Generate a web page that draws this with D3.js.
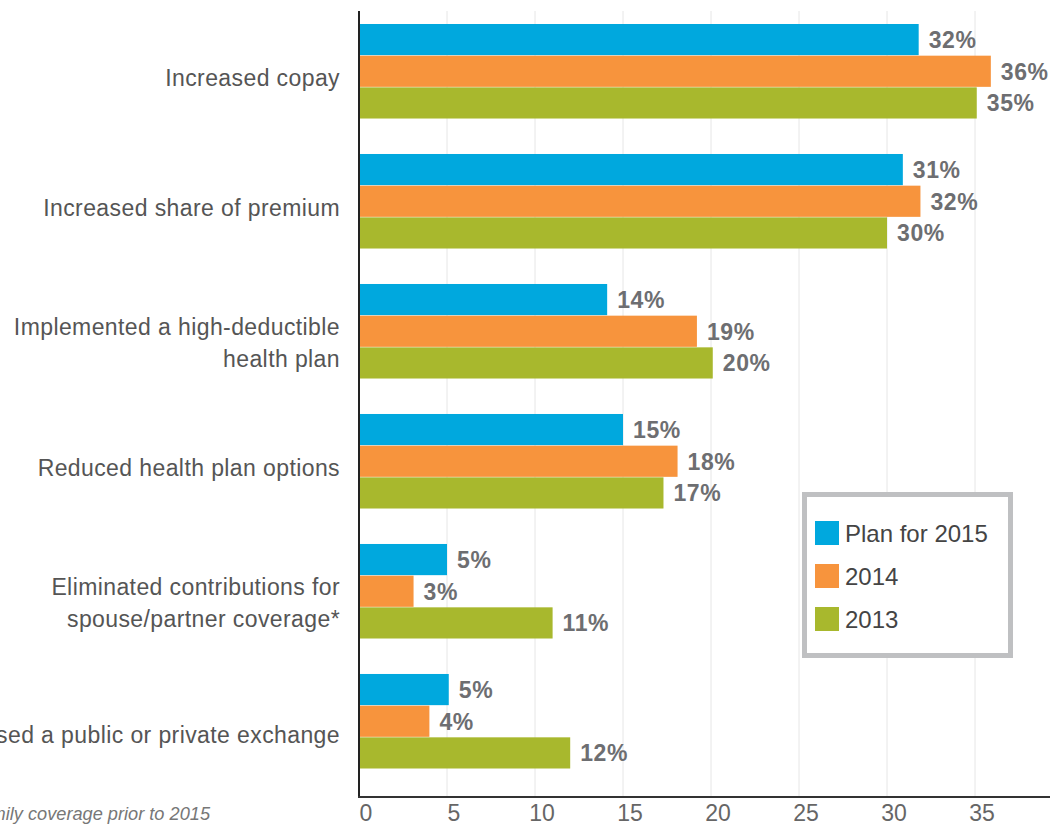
<!DOCTYPE html>
<html>
<head>
<meta charset="utf-8">
<script src="https://cdn.jsdelivr.net/npm/d3@7"></script>
<style>
  html, body { margin: 0; padding: 0; background: #fff; overflow: hidden; }
  svg { display: block; font-family: "Liberation Sans", Arial, sans-serif; }
</style>
</head>
<body>
<svg id="chart" width="1050" height="824"></svg>
<script>
const categories = [
  ["Increased copay"],
  ["Increased share of premium"],
  ["Implemented a high-deductible", "health plan"],
  ["Reduced health plan options"],
  ["Eliminated contributions for", "spouse/partner coverage*"],
  ["Used a public or private exchange"]
];
const seriesNames = ["Plan for 2015", "2014", "2013"];
const plan2015 = [31.8, 30.9, 14.1, 15.0, 5.0, 5.1];
const y2014   = [35.9, 31.9, 19.2, 18.1, 3.1, 4.0];
const y2013   = [35.1, 30.0, 20.1, 17.3, 11.0, 12.0];
const valueLabels2015 = ["32%", "31%", "14%", "15%", "5%", "5%"];
const valueLabels2014 = ["36%", "32%", "19%", "18%", "3%", "4%"];
const valueLabels2013 = ["35%", "30%", "20%", "17%", "11%", "12%"];
const xTicks = [0, 5, 10, 15, 20, 25, 30, 35, 40];
const footnote = "*Of employers that offered family coverage prior to 2015";

const colors = ["#00a8de", "#f7943d", "#a8b82d"];
const seriesValues = [plan2015, y2014, y2013];
const seriesLabels = [valueLabels2015, valueLabels2014, valueLabels2013];

const svg = d3.select("#chart");
const x = d3.scaleLinear().domain([0, 40]).range([359, 1063]);
const y = d3.scaleBand().domain(d3.range(categories.length))
  .range([6.5, 786.5]).paddingInner(0.269).paddingOuter(0.1346);
const yInner = d3.scaleBand().domain(d3.range(seriesNames.length))
  .range([0, y.bandwidth()]);

const plotTop = 11, plotBottom = 797;

// gridlines
svg.append("g").selectAll("line").data(xTicks.filter(d => d > 0)).join("line")
  .attr("x1", d => x(d)).attr("x2", d => x(d))
  .attr("y1", plotTop).attr("y2", plotBottom)
  .attr("stroke", "#e6e6e6").attr("stroke-width", 1);

// bars
const groups = svg.append("g").selectAll("g").data(categories).join("g")
  .attr("transform", (d, i) => `translate(0,${y(i)})`);

seriesValues.forEach((vals, s) => {
  groups.append("rect")
    .attr("x", x(0))
    .attr("y", yInner(s))
    .attr("width", (d, i) => x(vals[i]) - x(0))
    .attr("height", yInner.bandwidth() - 0.5)
    .attr("fill", colors[s]);
  groups.append("text")
    .attr("x", (d, i) => x(vals[i]) + 10)
    .attr("y", yInner(s) + yInner.bandwidth() / 2)
    .attr("dy", "0.36em")
    .attr("fill", "#6d6e71")
    .attr("font-weight", "bold")
    .attr("font-size", 23)
    .attr("letter-spacing", 0.6)
    .text((d, i) => seriesLabels[s][i]);
});

// category labels
groups.each(function(lines, i) {
  const g = d3.select(this);
  const c = y.bandwidth() / 2;
  const t = g.append("text")
    .attr("text-anchor", "end")
    .attr("fill", "#555")
    .attr("font-size", 23)
    .attr("letter-spacing", 0.4);
  const single = i === categories.length - 1 ? 22 : 15;
  if (lines.length === 1) {
    t.append("tspan").attr("x", 340).attr("y", c + single).text(lines[0]);
  } else {
    t.append("tspan").attr("x", 340).attr("y", c + 4).text(lines[0]);
    t.append("tspan").attr("x", 340).attr("y", c + 36).text(lines[1]);
  }
});

// axes lines
svg.append("line").attr("x1", x(0)).attr("x2", x(0))
  .attr("y1", plotTop).attr("y2", plotBottom + 1)
  .attr("stroke", "#222").attr("stroke-width", 2);
svg.append("line").attr("x1", x(0) - 1).attr("x2", 1050)
  .attr("y1", plotBottom).attr("y2", plotBottom)
  .attr("stroke", "#333").attr("stroke-width", 2);

// tick labels
svg.append("g").selectAll("text").data(xTicks).join("text")
  .attr("x", d => x(d) + 7)
  .attr("y", 821)
  .attr("text-anchor", "middle")
  .attr("fill", "#666")
  .attr("font-family", "'Liberation Sans Narrow', 'Liberation Sans', Arial, sans-serif")
  .attr("font-size", 23)
  .text(d => d);

// footnote
svg.append("text")
  .attr("x", 210).attr("y", 820)
  .attr("text-anchor", "end")
  .attr("font-style", "italic")
  .attr("fill", "#777")
  .attr("font-size", 18.2)
  .text(footnote);

// legend
const legend = svg.append("g");
legend.append("rect")
  .attr("x", 804.5).attr("y", 494.5).attr("width", 206).attr("height", 161)
  .attr("fill", "#fff").attr("stroke", "#bfc0c2").attr("stroke-width", 5);
seriesNames.forEach((name, s) => {
  legend.append("rect")
    .attr("x", 815).attr("y", 521 + s * 43).attr("width", 24).attr("height", 24)
    .attr("fill", colors[s]);
  legend.append("text")
    .attr("x", 845).attr("y", 533 + s * 43).attr("dy", "0.36em")
    .attr("fill", "#444").attr("font-size", 24)
    .text(name);
});
</script>
</body>
</html>
